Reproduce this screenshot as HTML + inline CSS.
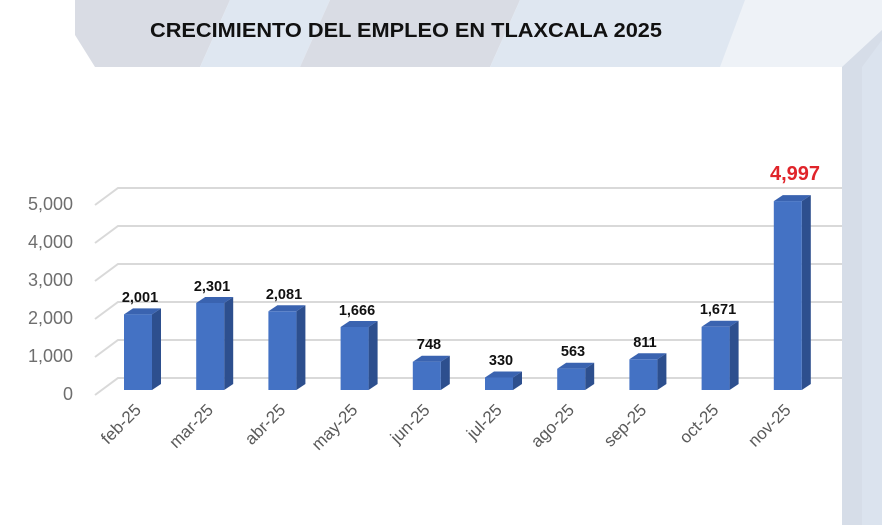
<!DOCTYPE html>
<html><head><meta charset="utf-8"><style>
body{margin:0;width:882px;height:525px;overflow:hidden;background:#fff}
</style></head><body>
<svg width="882" height="525" xmlns="http://www.w3.org/2000/svg" font-family="Liberation Sans, sans-serif">
<rect width="882" height="525" fill="#fff"/>
<polygon points="75,0 230,0 200,67 95,67 75,35" fill="#d9dce4"/>
<polygon points="230,0 330,0 300,67 200,67" fill="#dfe7f1"/>
<polygon points="330,0 520,0 490,67 300,67" fill="#d9dce4"/>
<polygon points="520,0 760,0 735,67 490,67" fill="#dfe7f1"/>
<polygon points="745,0 882,0 882,67 720,67" fill="#eef2f7"/>
<polygon points="842,67 882,30 882,525 842,525" fill="#d6dde8"/>
<polygon points="862,67 882,40 882,525 862,525" fill="#dbe3ee"/>
<rect x="0" y="67" width="842" height="458" fill="#fff"/>
<text x="150" y="37" font-size="20.5" font-weight="bold" fill="#111" textLength="512" lengthAdjust="spacingAndGlyphs">CRECIMIENTO DEL EMPLEO EN TLAXCALA 2025</text>
<g stroke="#d9d9d9" stroke-width="2" fill="none">
<polyline points="95,205 118,188 842,188"/>
<polyline points="95,243 118,226 842,226"/>
<polyline points="95,281 118,264 842,264"/>
<polyline points="95,319 118,302 842,302"/>
<polyline points="95,357 118,340 842,340"/>
<polyline points="95,395 118,378 842,378"/>
</g>
<g font-size="18" fill="#6e6e6e" text-anchor="end">
<text x="73" y="210">5,000</text><text x="73" y="248">4,000</text><text x="73" y="286">3,000</text>
<text x="73" y="324">2,000</text><text x="73" y="362">1,000</text><text x="73" y="400">0</text>
</g>
<g>
<g transform="translate(124,314.4)"><polygon points="28,0 37,-6 37,69.6 28,75.6" fill="#2d4f8e"/><polygon points="0,0 9,-6 37,-6 28,0" fill="#3a63b0"/><rect width="28" height="75.6" fill="#4472c4"/></g>
<g transform="translate(196.2,303)"><polygon points="28,0 37,-6 37,81 28,87" fill="#2d4f8e"/><polygon points="0,0 9,-6 37,-6 28,0" fill="#3a63b0"/><rect width="28" height="87" fill="#4472c4"/></g>
<g transform="translate(268.4,311.3)"><polygon points="28,0 37,-6 37,72.7 28,78.7" fill="#2d4f8e"/><polygon points="0,0 9,-6 37,-6 28,0" fill="#3a63b0"/><rect width="28" height="78.7" fill="#4472c4"/></g>
<g transform="translate(340.6,327)"><polygon points="28,0 37,-6 37,57 28,63" fill="#2d4f8e"/><polygon points="0,0 9,-6 37,-6 28,0" fill="#3a63b0"/><rect width="28" height="63" fill="#4472c4"/></g>
<g transform="translate(412.8,361.7)"><polygon points="28,0 37,-6 37,22.3 28,28.3" fill="#2d4f8e"/><polygon points="0,0 9,-6 37,-6 28,0" fill="#3a63b0"/><rect width="28" height="28.3" fill="#4472c4"/></g>
<g transform="translate(485,377.5)"><polygon points="28,0 37,-6 37,6.5 28,12.5" fill="#2d4f8e"/><polygon points="0,0 9,-6 37,-6 28,0" fill="#3a63b0"/><rect width="28" height="12.5" fill="#4472c4"/></g>
<g transform="translate(557.2,368.7)"><polygon points="28,0 37,-6 37,15.3 28,21.3" fill="#2d4f8e"/><polygon points="0,0 9,-6 37,-6 28,0" fill="#3a63b0"/><rect width="28" height="21.3" fill="#4472c4"/></g>
<g transform="translate(629.4,359.3)"><polygon points="28,0 37,-6 37,24.7 28,30.7" fill="#2d4f8e"/><polygon points="0,0 9,-6 37,-6 28,0" fill="#3a63b0"/><rect width="28" height="30.7" fill="#4472c4"/></g>
<g transform="translate(701.6,326.8)"><polygon points="28,0 37,-6 37,57.2 28,63.2" fill="#2d4f8e"/><polygon points="0,0 9,-6 37,-6 28,0" fill="#3a63b0"/><rect width="28" height="63.2" fill="#4472c4"/></g>
<g transform="translate(773.8,201.1)"><polygon points="28,0 37,-6 37,182.9 28,188.9" fill="#2d4f8e"/><polygon points="0,0 9,-6 37,-6 28,0" fill="#3a63b0"/><rect width="28" height="188.9" fill="#4472c4"/></g>
</g>
<g font-size="14.5" font-weight="bold" fill="#111" text-anchor="middle">
<text x="140" y="302">2,001</text>
<text x="212" y="291">2,301</text>
<text x="284" y="299">2,081</text>
<text x="357" y="315">1,666</text>
<text x="429" y="349">748</text>
<text x="501" y="365">330</text>
<text x="573" y="356">563</text>
<text x="645" y="347">811</text>
<text x="718" y="314">1,671</text>
</g>
<text x="795" y="180" font-size="20" font-weight="bold" fill="#e0242a" text-anchor="middle">4,997</text>
<g font-size="17" fill="#595959" text-anchor="end">
<text transform="translate(142,411) rotate(-45)">feb-25</text>
<text transform="translate(214.2,411) rotate(-45)">mar-25</text>
<text transform="translate(286.4,411) rotate(-45)">abr-25</text>
<text transform="translate(358.6,411) rotate(-45)">may-25</text>
<text transform="translate(430.8,411) rotate(-45)">jun-25</text>
<text transform="translate(503,411) rotate(-45)">jul-25</text>
<text transform="translate(575.2,411) rotate(-45)">ago-25</text>
<text transform="translate(647.4,411) rotate(-45)">sep-25</text>
<text transform="translate(719.6,411) rotate(-45)">oct-25</text>
<text transform="translate(791.8,411) rotate(-45)">nov-25</text>
</g>
</svg>
</body></html>
